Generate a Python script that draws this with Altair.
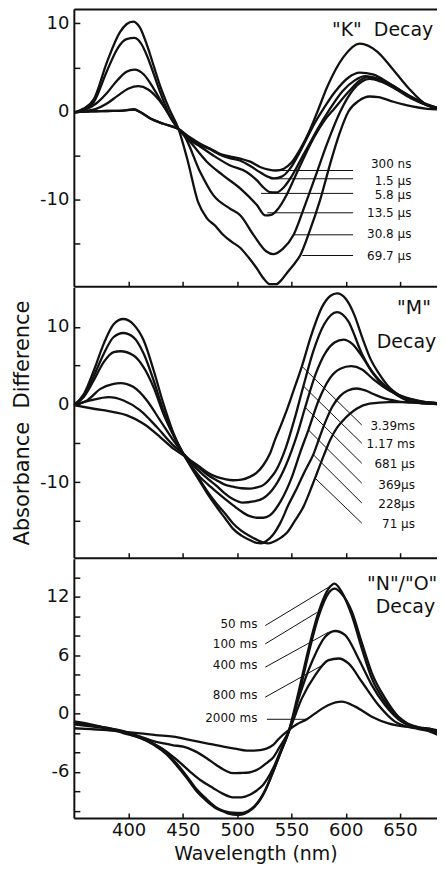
import altair as alt
import pandas as pd

FONT = "DejaVu Sans"
INK = "#111111"

# ---------------- shared axis settings ----------------
X_DOMAIN = [349.5, 684.1]
X_TICKS = [400, 450, 500, 550, 600, 650]
X_TITLE = "Wavelength (nm)"
Y_TITLE = "Absorbance\u00a0\u00a0Difference"
W = 364
H_K, H_M, H_N = 278, 271, 260

# ---------------- "K" decay panel ----------------
K_Y_DOMAIN = [-19.85, 11.63]
K_Y_TICKS = [10, 5, 0, -5, -10, -15]
K_Y_LABELS = [10, 0, -10]
K_NAMES = ["300 ns", "1.5 µs", "5.8 µs", "13.5 µs", "30.8 µs", "69.7 µs"]
K_300NS_X = [350, 365, 380, 395, 405, 411, 420, 432, 446, 456, 466, 475, 484, 493, 503, 512, 521, 529, 536, 543, 550, 558, 567, 574, 583, 598, 613, 629, 644, 659, 674, 691]
K_300NS_Y = [-0.1, 0.0, 0.05, 0.1, 0.25, -0.1, -0.8, -1.4, -2.0, -2.9, -3.66, -4.2, -4.8, -5.1, -5.36, -5.7, -6.3, -6.6, -6.7, -6.5, -5.8, -4.3, -2.1, 0.0, 2.8, 6.2, 7.7, 6.8, 4.7, 2.5, 0.8, 0.2]
K_1_5US_X = [350, 365, 380, 395, 405, 411, 420, 432, 446, 456, 466, 475, 484, 493, 503, 512, 521, 528, 534, 541, 548, 556, 564, 572, 580, 590, 602, 613, 625, 640, 655, 670, 691]
K_1_5US_Y = [-0.1, 0.0, 0.05, 0.1, 0.2, -0.1, -0.8, -1.4, -2.0, -3.0, -3.8, -4.3, -4.9, -5.3, -5.6, -6.2, -6.9, -7.4, -7.6, -7.4, -6.6, -5.0, -3.1, -1.2, 0.4, 2.2, 3.8, 4.4, 4.2, 3.2, 2.0, 1.0, 0.2]
K_5_8US_X = [350, 360, 370, 380, 390, 400, 409, 418, 428, 437, 446, 456, 466, 478, 493, 509, 518, 524, 530, 536, 543, 550, 558, 566, 575, 585, 597, 608, 618, 630, 645, 660, 675, 691]
K_5_8US_Y = [-0.1, 0.05, 0.3, 0.9, 1.8, 2.6, 2.87, 2.5, 1.3, -0.3, -2.0, -3.2, -4.0, -5.0, -6.1, -6.9, -7.8, -8.6, -9.15, -9.2, -8.6, -7.4, -5.6, -3.8, -1.8, 0.2, 2.3, 3.5, 4.0, 3.7, 2.8, 1.7, 0.8, 0.2]
K_13_5US_X = [350, 360, 370, 380, 390, 398, 405.5, 414, 423, 432, 440, 446, 457, 472, 487, 503, 518, 526, 532, 538, 545, 553, 562, 571, 580, 590, 603, 614, 620, 632, 645, 660, 675, 691]
K_13_5US_Y = [-0.1, 0.2, 0.9, 2.1, 3.6, 4.5, 4.76, 4.2, 2.6, 0.7, -1.0, -2.0, -3.5, -5.7, -7.25, -8.75, -10.6, -11.8, -11.7, -11.0, -9.6, -7.5, -5.1, -2.9, -1.1, 0.4, 2.3, 3.6, 3.9, 3.6, 2.7, 1.6, 0.7, 0.2]
K_30_8US_X = [350, 360, 368, 380, 390, 398, 405.5, 412, 417, 423, 429, 437, 446, 451, 466, 478, 493, 503, 515, 527, 533, 542, 552, 562, 572, 583, 595, 607, 615, 622, 632, 645, 660, 675, 691]
K_30_8US_Y = [-0.1, 0.3, 1.1, 4.6, 7.2, 8.2, 8.35, 7.6, 6.3, 4.3, 2.2, -0.2, -2.0, -2.7, -6.9, -9.5, -11.0, -11.8, -14.0, -15.9, -16.2, -15.6, -14.0, -10.8, -7.4, -3.6, 0.0, 2.5, 3.4, 3.7, 3.4, 2.6, 1.5, 0.7, 0.2]
K_69_7US_X = [350, 358, 368, 380, 392, 398, 404, 410, 417, 423, 429, 437, 446, 454, 464, 472, 480, 487, 495, 503, 510, 518, 524, 530, 536, 541, 546, 552, 558, 567, 576.5, 586, 594, 602.5, 612, 622, 630, 644, 660, 675, 691]
K_69_7US_Y = [-0.1, 0.3, 1.4, 5.6, 9.0, 9.9, 10.2, 9.6, 7.5, 5.2, 2.9, 0.4, -2.0, -5.4, -10.3, -12.1, -13.0, -14.0, -14.8, -15.5, -16.5, -17.8, -18.9, -19.6, -19.6, -19.1, -18.3, -17.4, -16.35, -13.5, -10.0, -5.8, -2.6, 0.0, 1.2, 1.7, 1.63, 1.1, 0.6, 0.3, 0.2]
K_LABEL_X = [660.5] * 6
K_LABEL_Y = [-6.0, -7.9, -9.45, -11.5, -13.96, -16.4]
K_LEAD_X1 = [530.5, 530.5, 522, 527.7, 551.7, 560]
K_LEAD_X2 = [606.8] * 6
K_LEAD_Y = [-6.7, -7.64, -9.3, -11.5, -14.0, -16.35]
K_TITLE = ['"K"\u00a0\u00a0Decay']
K_TITLE_X = [634.0]
K_TITLE_Y = [9.25]

# ---------------- "M" decay panel ----------------
M_Y_DOMAIN = [-19.75, 15.08]
M_Y_TICKS = [10, 5, 0, -5, -10, -15]
M_Y_LABELS = [10, 0, -10]
M_NAMES = ["71 µs", "228µs", "369µs", "681 µs", "1.17 ms", "3.39ms"]
M_71US_X = [349.5, 359, 368, 377, 386, 395, 404.5, 414, 423, 432, 441, 450, 458, 466, 473, 481, 489, 496, 504, 512, 519, 524, 529, 535, 541, 546, 554, 561, 567, 573.4, 580, 586, 592, 598, 604, 610, 622, 640, 662, 691]
M_71US_Y = [-0.1, 1.4, 4.4, 7.8, 10.3, 11.0, 10.3, 8.2, 4.4, 0.1, -3.6, -6.3, -8.0, -9.8, -11.3, -12.8, -14.1, -15.3, -16.3, -17.0, -17.5, -17.8, -17.9, -17.6, -17.1, -16.5, -14.8, -13.2, -11.2, -8.9, -6.5, -4.5, -3.0, -2.0, -1.2, -0.56, 0.1, 0.3, 0.3, 0.1]
M_228US_X = [349.5, 359, 368, 377, 386, 395, 404.5, 414, 423, 432, 441, 450, 458, 466, 473, 481, 489, 496, 504, 512, 518, 522, 527, 533, 540, 547, 555, 562, 570, 576, 582, 588, 595, 602, 610, 618, 626, 635, 648, 665, 691]
M_228US_Y = [-0.1, 1.15, 3.7, 6.5, 8.65, 9.2, 8.65, 6.5, 3.1, -0.8, -3.8, -6.3, -8.2, -10.0, -11.6, -13.2, -14.7, -16.0, -16.9, -17.5, -17.85, -17.9, -17.6, -16.8, -15.2, -13.0, -10.8, -8.7, -6.5, -4.2, -2.0, -0.2, 1.1, 1.8, 2.05, 1.8, 1.3, 0.8, 0.4, 0.2, 0.1]
M_369US_X = [349.5, 358.6, 367.8, 377, 386.2, 392.3, 404.5, 413.7, 422.9, 432, 441.2, 450.4, 458, 465.7, 473, 481, 489, 496.3, 504, 511.6, 518, 524, 530, 540, 550, 558, 565.6, 575, 585, 595, 605, 615, 625, 640, 655, 670, 691]
M_369US_Y = [-0.1, 0.94, 3.08, 5.44, 6.73, 6.85, 6.3, 4.8, 2.23, -1.2, -3.98, -6.34, -8.0, -9.34, -10.3, -11.27, -12.2, -13.0, -13.8, -14.4, -14.6, -14.6, -14.3, -12.5, -9.5, -6.2, -3.3, 0.5, 3.3, 4.6, 4.92, 4.5, 3.3, 1.8, 0.9, 0.4, 0.1]
M_681US_X = [349.5, 361.7, 374, 386.2, 392.3, 404.5, 416.8, 429, 441.2, 450.4, 458, 465.7, 473, 481, 488, 496, 505, 515, 524, 535, 545, 555, 562.6, 572, 582, 590, 598, 606, 615, 625, 635, 648, 665, 691]
M_681US_Y = [-0.1, 0.51, 2.0, 2.65, 2.74, 2.23, 0.51, -2.06, -4.63, -6.34, -7.6, -8.7, -9.6, -10.5, -11.4, -12.2, -12.65, -12.5, -12.1, -10.5, -7.8, -4.0, -0.4, 3.8, 6.8, 8.0, 8.35, 7.8, 6.2, 4.0, 2.4, 1.2, 0.5, 0.1]
M_1_17MS_X = [349.5, 364.7, 381.6, 395.3, 410.6, 425.9, 441.2, 450.4, 458, 465.7, 473, 481, 488, 496.3, 504, 511.6, 518, 524, 530, 535, 545, 553, 561, 570, 580, 592, 602, 615, 623, 631, 647, 662, 691]
M_1_17MS_Y = [-0.1, 0.51, 0.94, 0.51, -0.77, -2.91, -5.27, -6.34, -7.4, -8.27, -9.1, -9.77, -10.3, -10.6, -10.8, -10.84, -10.7, -10.4, -9.6, -8.7, -5.5, -1.8, 2.35, 6.8, 10.3, 11.9, 10.8, 6.5, 4.5, 3.1, 1.2, 0.3, 0.0]
M_3_39MS_X = [349.5, 367.8, 386.2, 398.5, 413.7, 429, 441.2, 450.4, 458, 465.7, 473, 481, 488, 496.3, 504, 511.6, 518, 524, 530, 535, 540, 545, 552, 559.6, 568, 578, 586, 592, 600, 608, 615, 623, 631, 640, 647, 662, 691]
M_3_39MS_Y = [-0.1, -0.56, -0.99, -1.41, -2.5, -4.2, -5.7, -6.56, -7.3, -8.06, -8.8, -9.34, -9.6, -9.77, -9.7, -9.34, -8.8, -7.84, -6.4, -4.5, -2.8, -1.0, 1.8, 4.9, 8.8, 12.5, 14.0, 14.3, 13.6, 11.5, 8.7, 5.8, 3.9, 2.2, 1.4, 0.3, 0.0]
M_LABELS = ["3.39ms", "1.17 ms", "681 µs", "369µs", "228µs", "71 µs"]
M_LABEL_X = [663.8] * 6
M_LABEL_Y = [-2.75, -5.14, -7.71, -10.37, -12.8, -15.4]
M_LEAD_X1 = [614.8] * 6
M_LEAD_Y1 = [-2.66, -5.0, -7.58, -10.15, -12.7, -15.3]
M_LEAD_X2 = [559.6, 561.1, 562.7, 565.7, 570.3, 571.8]
M_LEAD_Y2 = [4.92, 2.35, -0.39, -3.3, -6.5, -9.5]
M_TITLE = ['"M"', "Decay"]
M_TITLE_X = [662.9, 656.0]
M_TITLE_Y = [12.4, 8.05]

# ---------------- "N"/"O" decay panel ----------------
N_Y_DOMAIN = [-10.74, 15.93]
N_Y_TICKS = [14, 12, 10, 8, 6, 4, 2, 0, -2, -4, -6, -8, -10]
N_Y_LABELS = [12, 6, 0, -6]
N_NAMES = ["50 ms", "100 ms", "400 ms", "800 ms", "2000 ms"]
N_50MS_X = [349.5, 365, 380, 395, 410.6, 423, 435, 444, 453.4, 462, 471.9, 480, 487.2, 493, 499.5, 505, 510, 516, 521, 526, 533, 540, 547.4, 556.6, 565.8, 575, 584.2, 589.7, 596.4, 605.6, 614.8, 624, 636.2, 648.5, 657, 666.9, 679.1, 691.4]
N_50MS_Y = [-1.1, -1.3, -1.5, -1.9, -2.5, -3.2, -4.2, -5.3, -6.6, -7.9, -9.0, -9.7, -10.05, -10.3, -10.4, -10.35, -10.1, -9.6, -8.9, -7.9, -6.0, -4.0, -1.85, 2.25, 6.7, 10.46, 12.85, 13.37, 12.5, 10.1, 6.7, 3.62, 1.23, -0.48, -1.1, -1.5, -1.68, -2.5]
N_100MS_X = [349.5, 365, 380, 395, 410.6, 423, 435, 444, 453.4, 462, 471.9, 480, 487.2, 493, 499.5, 505, 510, 516, 521, 526, 533, 540, 547.4, 556.6, 565.8, 575, 584.2, 589.7, 596.4, 605.6, 614.8, 624, 636.2, 648.5, 657, 666.9, 679.1, 691.4]
N_100MS_Y = [-1.0, -1.2, -1.45, -1.8, -2.4, -3.1, -4.0, -5.1, -6.4, -7.7, -8.8, -9.6, -10.0, -10.15, -10.2, -10.2, -10.0, -9.5, -8.8, -7.8, -6.0, -4.0, -1.9, 1.8, 6.2, 10.0, 12.4, 12.85, 12.3, 10.5, 7.3, 4.2, 1.6, -0.3, -1.0, -1.4, -1.6, -2.4]
N_400MS_X = [349.5, 365, 380, 395, 410.6, 423, 435, 446, 456.5, 467, 478, 487, 496, 504, 511.7, 518, 524, 533.2, 540, 547.4, 556.6, 568.9, 581.1, 590.3, 599.5, 611.7, 624, 636.2, 651.5, 669.9, 691.4]
N_400MS_Y = [-0.8, -1.1, -1.5, -2.0, -2.5, -3.1, -3.9, -4.9, -5.95, -6.9, -7.66, -8.25, -8.6, -8.6, -8.34, -7.9, -7.3, -5.6, -3.8, -1.85, 1.57, 5.33, 7.9, 8.5, 8.07, 5.67, 2.94, 0.89, -0.82, -1.5, -2.5]
N_800MS_X = [349.5, 365, 380, 395, 410.6, 422, 431.9, 441, 450.3, 460, 471.9, 481, 490, 496.3, 503, 511, 521, 528, 533.2, 538.2, 547.4, 559.6, 571.9, 584.2, 593.4, 602.6, 614.8, 630.1, 645.4, 663.8, 679.1, 691.4]
N_800MS_Y = [-1.0, -1.2, -1.5, -1.85, -2.36, -2.8, -3.05, -3.25, -3.39, -3.8, -4.58, -5.3, -5.9, -6.12, -6.1, -6.05, -5.6, -5.0, -4.5, -3.6, -1.85, 1.57, 3.96, 5.5, 5.67, 5.16, 3.28, 0.89, -0.82, -1.5, -1.85, -2.2]
N_2000MS_X = [349.5, 365, 380, 395, 410.6, 425, 441.2, 456, 471.9, 487.2, 498, 508.7, 515, 521, 527, 533.2, 538.2, 547.4, 555, 564.2, 571.9, 584.2, 596.4, 608.7, 624, 639.3, 654.6, 673, 691.4]
N_2000MS_Y = [-1.5, -1.6, -1.68, -1.85, -2.02, -2.2, -2.36, -2.7, -3.05, -3.39, -3.6, -3.8, -3.8, -3.75, -3.6, -3.22, -2.6, -1.7, -1.1, -0.58, 0.03, 0.89, 1.23, 0.72, -0.31, -1.0, -1.34, -1.5, -1.85]
N_LABEL_X = [518.6] * 5
N_LABEL_Y = [9.23, 7.18, 4.95, 1.88, -0.41]
N_LEAD_X1 = [525.9, 525.9, 525.9, 525.9, 527.4]
N_LEAD_Y1 = [9.06, 7.18, 4.78, 1.7, -0.58]
N_LEAD_X2 = [588.7, 573.4, 584.1, 581.0, 564.2]
N_LEAD_Y2 = [13.3, 10.4, 8.37, 5.13, -0.58]
N_TITLE = ['"N"/"O"', "Decay"]
N_TITLE_X = [652.0, 655.0]
N_TITLE_Y = [13.36, 10.93]


def curve_frame(names, xs, ys):
    rows = []
    for name, xx, yy in zip(names, xs, ys):
        for i, (a, b) in enumerate(zip(xx, yy)):
            rows.append({"curve": name, "i": i, "nm": a, "v": b})
    return pd.DataFrame(rows)


def text_frame(texts, xs, ys):
    return pd.DataFrame({"t": texts, "x": xs, "y": ys})


def lead_frame(x1, y1, x2, y2):
    return pd.DataFrame({"x1": x1, "y1": y1, "x2": x2, "y2": y2})


def major_only(values):
    return "indexof(%s, datum.value) >= 0 ? datum.value + '' : ''" % (list(values),)


def panel(curves, labels_df, leads_df, titles_df, ydom, yticks, ylabels, H,
          x_axis, edge_axis, ytitle=None):
    xs = alt.Scale(domain=X_DOMAIN, nice=False, zero=False)
    ys = alt.Scale(domain=ydom, nice=False, zero=False)
    y_kw = dict(orient="left", values=yticks, ticks=True,
                tickSize=alt.ExprRef("-6"), tickWidth=1.5, tickColor=INK,
                domain=True, domainWidth=2, domainColor=INK, grid=False,
                labelFont=FONT, labelFontSize=18, labelColor=INK,
                labelPadding=11, labelExpr=major_only(ylabels))
    if ytitle:
        y_kw.update(title=ytitle, titleFont=FONT, titleFontSize=21,
                    titleFontWeight="normal", titleColor=INK, titlePadding=7)
    else:
        y_kw.update(title=None)

    lines = alt.Chart(curves).mark_line(
        interpolate="monotone", color=INK, strokeWidth=2.3, clip=True
    ).encode(
        x=alt.X("nm:Q", scale=xs, axis=x_axis),
        y=alt.Y("v:Q", scale=ys, axis=alt.Axis(**y_kw)),
        detail="curve:N",
        order="i:Q",
    )
    leads = alt.Chart(leads_df).mark_rule(color=INK, strokeWidth=1).encode(
        x=alt.X("x1:Q", scale=xs, axis=edge_axis),
        x2="x2:Q",
        y=alt.Y("y1:Q", scale=ys, axis=None),
        y2="y2:Q",
    )
    labels = alt.Chart(labels_df).mark_text(
        align="right", baseline="middle", font=FONT, fontSize=12, color=INK
    ).encode(
        x=alt.X("x:Q", scale=xs, axis=None),
        y=alt.Y("y:Q", scale=ys, axis=None),
        text="t:N",
    )
    titles = alt.Chart(titles_df).mark_text(
        align="center", baseline="middle", font=FONT, fontSize=19, color=INK,
        clip=True
    ).encode(
        x=alt.X("x:Q", scale=xs, axis=None),
        y=alt.Y("y:Q", scale=ys, axis=None),
        text="t:N",
    )
    return (
        alt.layer(lines, leads, labels, titles)
        .resolve_axis(x="independent", y="independent")
        .properties(width=W, height=H)
    )


def inner_x_axis():
    return alt.Axis(orient="bottom", values=X_TICKS, ticks=True,
                    tickSize=alt.ExprRef("-5"), tickWidth=1.5, tickColor=INK,
                    labels=False, domain=True, domainWidth=2, domainColor=INK,
                    grid=False, title=None)


top_edge = alt.Axis(orient="top", ticks=False, labels=False, domain=True,
                    domainWidth=2, domainColor=INK, grid=False, title=None)
bottom_axis = alt.Axis(orient="bottom", values=X_TICKS, ticks=True,
                       tickSize=alt.ExprRef("-5"), tickWidth=1.5, tickColor=INK,
                       domain=True, domainWidth=2, domainColor=INK, grid=False,
                       labelFont=FONT, labelFontSize=18, labelColor=INK,
                       labelPadding=8, title=X_TITLE, titleFont=FONT,
                       titleFontSize=19, titleFontWeight="normal",
                       titleColor=INK, titlePadding=5)

pK = panel(
    curve_frame(K_NAMES,
                [K_300NS_X, K_1_5US_X, K_5_8US_X, K_13_5US_X, K_30_8US_X, K_69_7US_X],
                [K_300NS_Y, K_1_5US_Y, K_5_8US_Y, K_13_5US_Y, K_30_8US_Y, K_69_7US_Y]),
    text_frame(K_NAMES, K_LABEL_X, K_LABEL_Y),
    lead_frame(K_LEAD_X1, K_LEAD_Y, K_LEAD_X2, K_LEAD_Y),
    text_frame(K_TITLE, K_TITLE_X, K_TITLE_Y),
    K_Y_DOMAIN, K_Y_TICKS, K_Y_LABELS, H_K, inner_x_axis(), top_edge,
)
pM = panel(
    curve_frame(M_NAMES,
                [M_71US_X, M_228US_X, M_369US_X, M_681US_X, M_1_17MS_X, M_3_39MS_X],
                [M_71US_Y, M_228US_Y, M_369US_Y, M_681US_Y, M_1_17MS_Y, M_3_39MS_Y]),
    text_frame(M_LABELS, M_LABEL_X, M_LABEL_Y),
    lead_frame(M_LEAD_X1, M_LEAD_Y1, M_LEAD_X2, M_LEAD_Y2),
    text_frame(M_TITLE, M_TITLE_X, M_TITLE_Y),
    M_Y_DOMAIN, M_Y_TICKS, M_Y_LABELS, H_M, inner_x_axis(), None,
    ytitle=Y_TITLE,
)
pN = panel(
    curve_frame(N_NAMES,
                [N_50MS_X, N_100MS_X, N_400MS_X, N_800MS_X, N_2000MS_X],
                [N_50MS_Y, N_100MS_Y, N_400MS_Y, N_800MS_Y, N_2000MS_Y]),
    text_frame(N_NAMES, N_LABEL_X, N_LABEL_Y),
    lead_frame(N_LEAD_X1, N_LEAD_Y1, N_LEAD_X2, N_LEAD_Y2),
    text_frame(N_TITLE, N_TITLE_X, N_TITLE_Y),
    N_Y_DOMAIN, N_Y_TICKS, N_Y_LABELS, H_N, bottom_axis, None,
)

chart = (
    alt.vconcat(pK, pM, pN, spacing=0)
    .properties(padding={"left": 3, "top": 0, "right": 0, "bottom": 0})
    .configure_view(stroke=None)
)

chart.save("out.html", embed_options={"renderer": "svg", "actions": False})
